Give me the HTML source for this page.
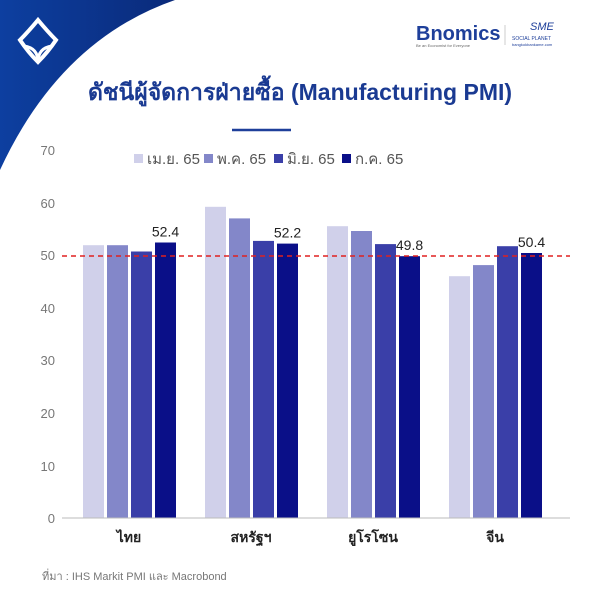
<!DOCTYPE html>
<html><head><meta charset="utf-8"><style>
body{margin:0;width:600px;height:600px;background:#fff;overflow:hidden;font-family:"Liberation Sans","Noto Sans CJK SC",sans-serif}
</style></head><body>
<svg width="600" height="600" xmlns="http://www.w3.org/2000/svg" font-family="Liberation Sans, Noto Sans CJK SC, sans-serif">
<defs><linearGradient id="g" x1="0" y1="0" x2="1" y2="0"><stop offset="0" stop-color="#0d3fa0"/><stop offset="1" stop-color="#0a2a7a"/></linearGradient></defs>
<path d="M0,0 L175,0 Q60,40 0,170 Z" fill="url(#g)"/>
<path d="M38,20 Q28,32 20,40 Q28,52 38,62 Q48,52 56,40 Q48,32 38,20 Z" fill="none" stroke="#fff" stroke-width="4"/>
<path d="M24,46 Q38,48 38,62 Q38,48 52,46" fill="none" stroke="#fff" stroke-width="3"/>
<text x="416" y="40" font-size="20" font-weight="bold" fill="#1e3f9a">Bnomics</text>
<text x="416" y="47" font-size="4" fill="#666">Be an Economist for Everyone</text>
<line x1="505" y1="25" x2="505" y2="45" stroke="#ccc"/>
<text x="530" y="30" font-size="11" font-style="italic" fill="#1e3f9a">SME</text>
<text x="512" y="40" font-size="5" fill="#1e3f9a">SOCIAL PLANET</text>
<text x="512" y="46" font-size="4" fill="#1e3f9a">bangkokbankame.com</text>
<text x="300" y="100" font-size="23" font-weight="bold" fill="#1a3a92" text-anchor="middle">ดัชนีผู้จัดการฝ่ายซื้อ (Manufacturing PMI)</text>
<line x1="232" y1="130" x2="291" y2="130" stroke="#1e3f9a" stroke-width="2.5"/>
<g font-size="15" fill="#555">
<rect x="134" y="154" width="9" height="9" fill="#d0d0ea"/><text x="147" y="164">เม.ย. 65</text>
<rect x="204" y="154" width="9" height="9" fill="#8387c9"/><text x="217" y="164">พ.ค. 65</text>
<rect x="274" y="154" width="9" height="9" fill="#3a3fa8"/><text x="287" y="164">มิ.ย. 65</text>
<rect x="342" y="154" width="9" height="9" fill="#0a0f88"/><text x="355" y="164">ก.ค. 65</text>
</g>
<g font-size="13" fill="#777" text-anchor="end">
<text x="55" y="155">70</text><text x="55" y="208">60</text><text x="55" y="260">50</text>
<text x="55" y="313">40</text><text x="55" y="365">30</text><text x="55" y="418">20</text>
<text x="55" y="471">10</text><text x="55" y="523">0</text>
</g>
<g>
<rect x="83" y="245.2" width="21" height="272.8" fill="#d0d0ea"/>
<rect x="107" y="245.2" width="21" height="272.8" fill="#8387c9"/>
<rect x="131" y="251.5" width="21" height="266.5" fill="#3a3fa8"/>
<rect x="155" y="242.5" width="21" height="275.5" fill="#0a0f88"/>
<rect x="205" y="206.8" width="21" height="311.2" fill="#d0d0ea"/>
<rect x="229" y="218.4" width="21" height="299.6" fill="#8387c9"/>
<rect x="253" y="240.9" width="21" height="277.1" fill="#3a3fa8"/>
<rect x="277" y="243.6" width="21" height="274.4" fill="#0a0f88"/>
<rect x="327" y="226.2" width="21" height="291.8" fill="#d0d0ea"/>
<rect x="351" y="231" width="21" height="287" fill="#8387c9"/>
<rect x="375" y="244.1" width="21" height="273.9" fill="#3a3fa8"/>
<rect x="399" y="256.2" width="21" height="261.8" fill="#0a0f88"/>
<rect x="449" y="276.2" width="21" height="241.8" fill="#d0d0ea"/>
<rect x="473" y="265.1" width="21" height="252.9" fill="#8387c9"/>
<rect x="497" y="246.2" width="21" height="271.8" fill="#3a3fa8"/>
<rect x="521" y="253" width="21" height="265" fill="#0a0f88"/>
</g>
<g font-size="14" fill="#222" text-anchor="middle">
<text x="165.5" y="236.5">52.4</text><text x="287.5" y="237.6">52.2</text>
<text x="409.5" y="250.2">49.8</text><text x="531.5" y="247">50.4</text>
</g>
<line x1="62" y1="518" x2="570" y2="518" stroke="#bbb"/>
<line x1="62" y1="256" x2="570" y2="256" stroke="#e02020" stroke-width="1.5" stroke-dasharray="5,4"/>
<g font-size="14" font-weight="bold" fill="#222" text-anchor="middle">
<text x="129" y="542">ไทย</text><text x="251" y="542">สหรัฐฯ</text><text x="373" y="542">ยูโรโซน</text><text x="495" y="542">จีน</text>
</g>
<text x="42" y="580" font-size="11" fill="#777">ที่มา : IHS Markit PMI และ Macrobond</text>
</svg>
</body></html>
